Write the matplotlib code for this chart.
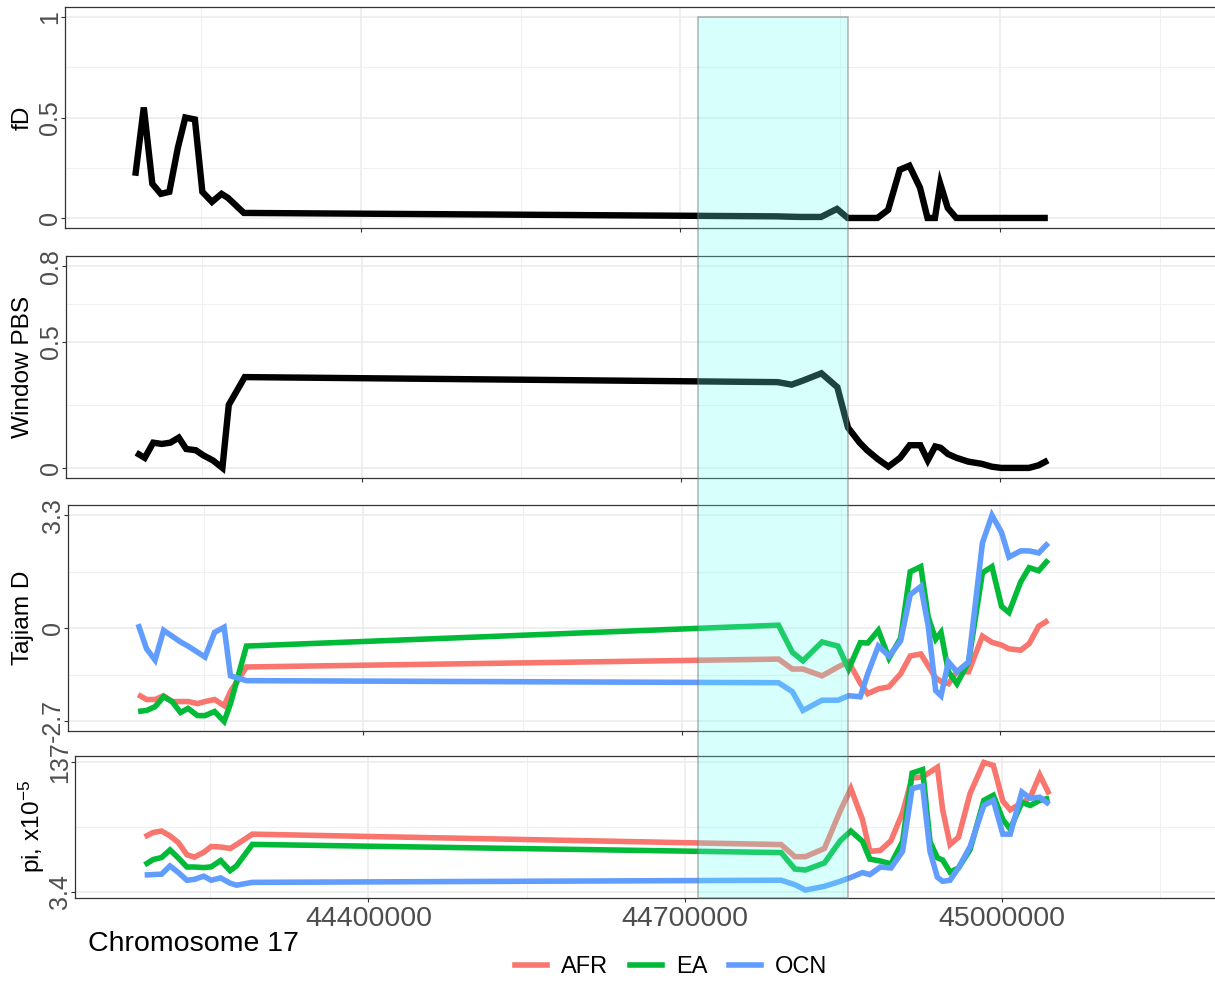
import matplotlib
matplotlib.use('Agg')
import matplotlib.pyplot as plt
from matplotlib.lines import Line2D
from matplotlib.patches import Rectangle
import matplotlib.transforms as mtransforms
from matplotlib.ticker import FixedLocator, FixedFormatter

plt.rcParams['font.family'] = ['Liberation Sans', 'DejaVu Sans']
plt.rcParams['mathtext.fontset'] = 'custom'
plt.rcParams['mathtext.rm'] = 'Liberation Sans'
plt.rcParams['mathtext.it'] = 'Liberation Sans'
plt.rcParams['mathtext.bf'] = 'Liberation Sans:bold'

# ---------------- data ----------------
positions = [44188000, 44196000, 44204000, 44212000, 44220000, 44228000, 44235000,
             44244000, 44251000, 44260000, 44269000, 44275000, 44290000,
             44791000, 44804000, 44814000, 44832000, 44847000, 44857000, 44868000,
             44875000, 44885000, 44895000, 44906000, 44915000, 44925000, 44932000,
             44939000, 44944000, 44951000, 44959000, 44970000, 44983000, 44992000,
             45001000, 45008000, 45019000, 45027000, 45036000, 45045000]

fd = [0.21, 0.55, 0.17, 0.12, 0.13, 0.35, 0.50, 0.49, 0.13, 0.08, 0.12, 0.10, 0.025,
      0.008, 0.006, 0.005, 0.005, 0.045, 0.0, 0.0, 0.0, 0.0, 0.04, 0.24, 0.26, 0.15,
      0.0, 0.0, 0.17, 0.05, 0.0, 0.0, 0.0, 0.0, 0.0, 0.0, 0.0, 0.0, 0.0, 0.0]

pbs = [0.06, 0.04, 0.10, 0.095, 0.10, 0.12, 0.075, 0.07, 0.05, 0.03, 0.0, 0.25, 0.36,
       0.34, 0.33, 0.345, 0.375, 0.32, 0.16, 0.10, 0.07, 0.035, 0.005, 0.04, 0.09, 0.09,
       0.03, 0.085, 0.08, 0.055, 0.04, 0.025, 0.016, 0.005, 0.0, 0.0, 0.0, 0.0, 0.01, 0.03]

tajima_afr = [-1.94, -2.08, -2.08, -1.97, -2.14, -2.14, -2.14, -2.2, -2.14, -2.08, -2.26, -1.85, -1.13,
              -0.9, -1.19, -1.19, -1.39, -1.13, -0.98, -1.6, -1.91, -1.77, -1.71, -1.33, -0.81,
              -0.75, -1.1, -1.45, -1.55, -1.62, -1.27, -1.27, -0.23, -0.41, -0.49, -0.6, -0.64,
              -0.45, 0.06, 0.23]
tajima_ea = [-2.43, -2.4, -2.29, -2.0, -2.14, -2.46, -2.34, -2.55, -2.55, -2.43, -2.72, -2.2, -0.52,
             0.09, -0.7, -0.95, -0.4, -0.52, -1.19, -0.42, -0.43, -0.06, -0.87, -0.29, 1.65,
             1.8, 0.32, -0.32, -0.12, -1.27, -1.62, -0.98, 1.62, 1.8, 0.64, 0.46, 1.35,
             1.77, 1.68, 2.0]
tajima_ocn = [0.12, -0.6, -0.93, -0.06, -0.23, -0.4, -0.52, -0.7, -0.84, -0.12, 0.03, -1.39, -1.53,
              -1.59, -1.85, -2.4, -2.1, -2.1, -1.97, -2.0, -1.33, -0.52, -0.81, -0.37, 0.98,
              1.22, 0.06, -1.82, -1.97, -0.98, -1.27, -0.98, 2.49, 3.3, 2.8, 2.08, 2.26,
              2.26, 2.2, 2.49]

pi_afr = [60, 64.5, 66, 61, 54, 41.5, 39, 44, 50, 49.5, 48, 52, 62.8,
          52, 39.5, 39.5, 48, 87, 110, 78, 45, 46, 56, 85, 121, 122, 127, 132, 88,
          52, 59.6, 105, 137, 134, 97, 88, 95, 101, 124, 104]
pi_ea = [31, 36.5, 38.6, 46.5, 38, 28.8, 28.8, 28.2, 29, 35.5, 25, 30, 52.2,
         43.7, 26.7, 25.7, 33, 56, 66, 55.4, 37, 35, 32, 55, 126, 129.6, 55, 38.4, 36,
         23.5, 27.8, 46.9, 97.8, 103, 78, 68, 95.7, 92.5, 97.8, 100]
pi_ocn = [20.5, 21, 21.4, 29.9, 23, 15.1, 16, 19.3, 15.1, 17.5, 12, 10, 12.9,
          15.1, 10.5, 5, 8.8, 14, 18, 23, 21, 28.8, 27.8, 45, 110, 112.6, 45, 18.2, 14,
          15.1, 28, 50, 92.5, 97.8, 62.8, 62.8, 106.3, 100, 101, 93.6]

populations = ['AFR', 'EA', 'OCN']
pop_colors = ['#F8766D', '#00BA38', '#619CFF']

x_ticks = [44400000, 44700000, 45000000]
x_tick_labels = ['44400000', '44700000', '45000000']
x_minor = [44250000, 44550000, 44850000, 45150000]
x_limits = (44122000, 45202000)

highlight_region = (44716500, 44857300)

panel_titles = ['fD', 'Window PBS', 'Tajiam D', r'pi, x10$^{-5}$']
y_ticks = [[0, 0.5, 1], [0, 0.5, 0.8], [-2.7, 0, 3.3], [3.4, 137]]
y_tick_labels = [['0', '0.5', '1'], ['0', '0.5', '0.8'], ['-2.7', '0', '3.3'], ['3.4', '137']]
y_minor = [[0.25, 0.75], [0.25, 0.65], [-1.35, 1.65], [70.2]]

# ---------------- layout ----------------
W, H = 1215, 981
fig = plt.figure(figsize=(W / 100, H / 100), dpi=100)

# pixel boxes: left, top, bottom (right at figure edge)
boxes = [(65, 7, 228), (66, 256, 478), (68, 505, 731), (75, 756, 898)]
label_x = [23, 23, 23, 32]

axes = []
for (l, t, b) in boxes:
    ax = fig.add_axes([l / W, 1 - b / H, (W - l) / W, (b - t) / H])
    axes.append(ax)

series_sets = [
    [(fd, 'black')],
    [(pbs, 'black')],
    [(tajima_afr, pop_colors[0]), (tajima_ea, pop_colors[1]), (tajima_ocn, pop_colors[2])],
    [(pi_afr, pop_colors[0]), (pi_ea, pop_colors[1]), (pi_ocn, pop_colors[2])],
]

for i, ax in enumerate(axes):
    for vals, col in series_sets[i]:
        lw = 4.6 if col == 'black' else 4.0
        ax.plot(positions, vals, color=col, lw=lw, solid_joinstyle='miter',
                solid_capstyle='butt', zorder=3)
    yt = y_ticks[i]
    rng = yt[-1] - yt[0]
    ax.set_ylim(yt[0] - 0.05 * rng, yt[-1] + 0.05 * rng)
    ax.set_xlim(*x_limits)
    ax.yaxis.set_major_locator(FixedLocator(yt))
    ax.yaxis.set_major_formatter(FixedFormatter(y_tick_labels[i]))
    ax.yaxis.set_minor_locator(FixedLocator(y_minor[i]))
    ax.xaxis.set_major_locator(FixedLocator(x_ticks))
    ax.xaxis.set_minor_locator(FixedLocator(x_minor))
    if i == 3:
        ax.xaxis.set_major_formatter(FixedFormatter(x_tick_labels))
    else:
        ax.tick_params(axis='x', labelbottom=False)
    ax.grid(which='major', color='#EBEBEB', lw=1.1, zorder=0)
    ax.grid(which='minor', color='#F0F0F0', lw=0.8, zorder=0)
    ax.set_axisbelow(True)
    ax.tick_params(which='major', length=2.8, width=0.8, color='#333333',
                   labelcolor='#4D4D4D')
    ax.tick_params(which='minor', length=0)
    ax.tick_params(axis='y', labelrotation=90, labelsize=18, pad=-0.5)
    ax.tick_params(axis='x', labelsize=20.5, pad=3)
    for lab in ax.get_yticklabels():
        lab.set_va('center')
        lab.set_ha('right')
    for side in ['left', 'top', 'bottom']:
        ax.spines[side].set_color('#333333')
        ax.spines[side].set_linewidth(0.9)
    ax.spines['right'].set_visible(False)
    l, t, b = boxes[i]
    fig.text(label_x[i] / W, 1 - ((t + b) / 2) / H, panel_titles[i], rotation=90,
             ha='center', va='center', fontsize=17.6, color='black')

# highlighted region spanning all panels
top_fig = fig.transFigure.inverted().transform(
    axes[0].transData.transform((highlight_region[0], 1.0)))[1]
bottom_fig = axes[3].get_position().y0
trans = mtransforms.blended_transform_factory(axes[0].transData, fig.transFigure)
rect = Rectangle((highlight_region[0], bottom_fig),
                 highlight_region[1] - highlight_region[0], top_fig - bottom_fig,
                 transform=trans, facecolor=(0.43, 1.0, 0.96, 0.27),
                 edgecolor=(0.45, 0.45, 0.45, 0.5), lw=1.2, zorder=10)
fig.add_artist(rect)

fig.text(88 / W, 1 - 944 / H, 'Chromosome 17', ha='left', va='center',
         fontsize=20.5, color='black')

handles = [Line2D([0], [0], color=c, lw=4.0) for c in pop_colors]
fig.legend(handles, populations, loc='center', bbox_to_anchor=(671 / W, 1 - 967 / H),
           ncol=3, frameon=False, fontsize=17, handlelength=1.36,
           handletextpad=0.6, columnspacing=0.9)

fig.savefig('out.png', dpi=100)
